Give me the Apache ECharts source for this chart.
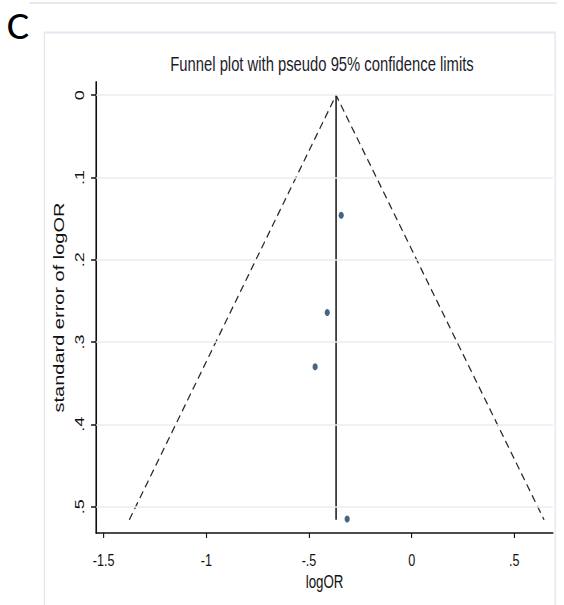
<!DOCTYPE html>
<html>
<head>
<meta charset="utf-8">
<script src="https://cdn.jsdelivr.net/npm/echarts@6/dist/echarts.min.js"></script>
<style>
  html, body { margin: 0; padding: 0; background: #fff; overflow: hidden; }
  /* the source figure is squeezed sideways, so draw wide and squeeze */
  #wrap { width: 564px; height: 605px; overflow: hidden; }
  #chart { width: 762px; height: 605px; transform: scaleX(0.7402); transform-origin: 0 0; }
</style>
</head>
<body>
<div id="wrap"><div id="chart"></div></div>
<script>
// values
const studyLogOR = [-0.343, -0.411, -0.470, -0.314];
const studySE = [0.146, 0.264, 0.330, 0.515];
// funnel outline: left foot, apex, right foot
const funnelLogOR = [-1.375, -0.368, 0.645];
const funnelSE = [0.516, 0, 0.516];
// pooled estimate line
const pooledLogOR = -0.368;
const pooledSE = [0, 0.516];
const xTicks = [-1.5, -1, -0.5, 0, 0.5];
const yTicks = [0, 0.1, 0.2, 0.3, 0.4, 0.5];

const FONT = '"Liberation Sans", Arial, Helvetica, sans-serif';
const TEXT_COLOR = "#111";

// stata style: ".5" instead of "0.5"
function stataNum(v) {
  if (v === 0) return "0";
  return String(v).replace(/^(-?)0\./, "$1.");
}

const chart = echarts.init(document.getElementById("chart"), null, { renderer: "svg" });

const option = {
  animation: false,
  backgroundColor: "#fff",
  title: {
    text: "Funnel plot with pseudo 95% confidence limits",
    left: 435,
    top: 54,
    padding: 0,
    textAlign: "center",
    textStyle: {
      fontFamily: FONT,
      fontSize: 20,
      fontWeight: "normal",
      color: "#1c1c2a",
    },
  },
  graphic: [
    // outer page line
    {
      type: "line",
      shape: { x1: 40, y1: 3, x2: 752, y2: 3 },
      style: { stroke: "#e6e8ea", lineWidth: 2 },
      silent: true,
    },
    // panel frame
    {
      type: "rect",
      shape: { x: 60, y: 32.5, width: 690, height: 600 },
      style: { fill: "none", stroke: "#e1e8ef", lineWidth: 1.8 },
      silent: true,
    },
    {
      type: "text",
      x: 9,
      y: 7,
      scaleX: 1.5,
      style: {
        text: "C",
        fontFamily: '"Carlito", "Open Sans", "Noto Sans", sans-serif',
        fontSize: 38,
        fill: "#000",
      },
      silent: true,
    },
  ],
  grid: {
    left: 130,
    top: 82,
    right: 15,
    bottom: 72,
    containLabel: false,
  },
  xAxis: {
    type: "value",
    min: -1.536,
    max: 0.688,
    name: "logOR",
    nameLocation: "middle",
    nameGap: 31,
    nameTextStyle: {
      fontFamily: FONT,
      fontSize: 18,
      color: TEXT_COLOR,
    },
    axisLine: {
      show: true,
      onZero: false,
      lineStyle: { color: "#111", width: 1.6 },
    },
    axisTick: {
      show: true,
      customValues: xTicks,
      length: 5,
      lineStyle: { color: "#111", width: 1.5 },
    },
    axisLabel: {
      customValues: xTicks,
      formatter: (v) => stataNum(v),
      margin: 18,
      fontFamily: FONT,
      fontSize: 17,
      color: TEXT_COLOR,
    },
    splitLine: { show: false },
  },
  yAxis: {
    type: "value",
    inverse: true,
    min: -0.016,
    max: 0.532,
    name: "standard error of logOR",
    nameLocation: "middle",
    nameRotate: 90,
    nameGap: 22,
    nameTextStyle: {
      fontFamily: FONT,
      fontSize: 20,
      color: TEXT_COLOR,
    },
    axisLine: {
      show: true,
      onZero: false,
      lineStyle: { color: "#111", width: 2.2 },
    },
    axisTick: {
      show: true,
      customValues: yTicks,
      length: 7,
      lineStyle: { color: "#111", width: 1.5 },
    },
    axisLabel: {
      customValues: yTicks,
      formatter: (v) => stataNum(v),
      rotate: 90,
      margin: 14,
      fontFamily: FONT,
      fontSize: 18,
      color: TEXT_COLOR,
    },
    splitLine: { show: false },
  },
  series: [
    {
      name: "grid",
      type: "line",
      data: [],
      silent: true,
      markLine: {
        silent: true,
        symbol: "none",
        animation: false,
        label: { show: false },
        lineStyle: { color: "#e9eef0", width: 1.5, type: "solid" },
        data: yTicks.map((v) => ({ yAxis: v })),
      },
    },
    {
      name: "funnel",
      type: "line",
      data: funnelLogOR.map((x, i) => [x, funnelSE[i]]),
      symbol: "none",
      silent: true,
      lineStyle: { color: "#2a2a2a", width: 1.6, type: [8, 5] },
    },
    {
      name: "pooled",
      type: "line",
      data: pooledSE.map((se) => [pooledLogOR, se]),
      symbol: "none",
      silent: true,
      lineStyle: { color: "#111", width: 2, type: "solid" },
    },
    {
      name: "studies",
      type: "scatter",
      data: studyLogOR.map((x, i) => [x, studySE[i]]),
      symbol: "circle",
      symbolSize: 7,
      itemStyle: { color: "#163f66" },
    },
  ],
};

chart.setOption(option);
</script>
</body>
</html>
